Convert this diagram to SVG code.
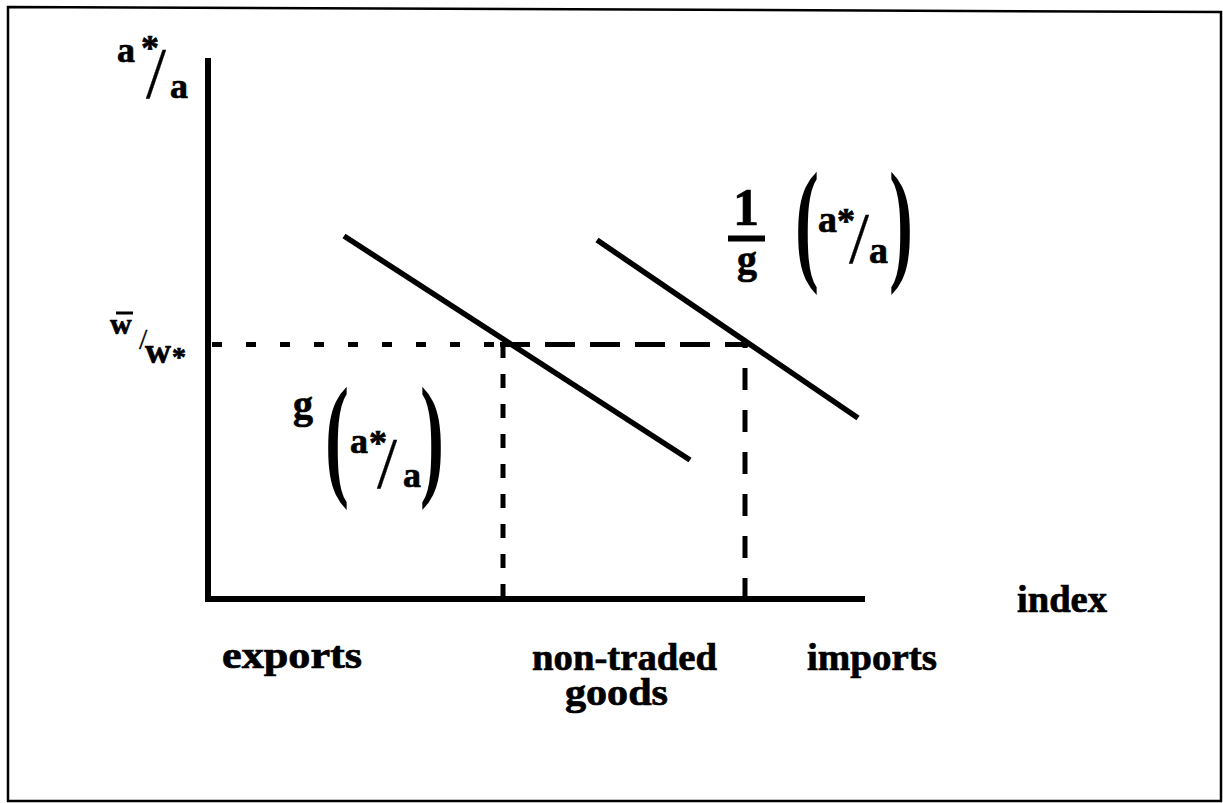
<svg xmlns="http://www.w3.org/2000/svg" width="1223" height="803" viewBox="0 0 1223 803">
<style>
.t{font-family:"Liberation Serif","Times New Roman",serif;font-weight:bold;fill:#000;stroke:#000;stroke-width:0.7}
.lab{font-size:38px}
.m{font-size:36px}
.sl{font-family:"Liberation Serif",serif;font-weight:normal;font-size:72px;stroke-width:0.3}
.p{font-family:"Liberation Serif",serif;font-weight:bold;font-size:40px;fill:#000}
.ax{stroke:#000;stroke-width:6;fill:none}
.ln{stroke:#000;stroke-width:5.5;fill:none;stroke-linecap:butt}
.d1{stroke:#000;stroke-width:5;fill:none;stroke-dasharray:10 24}
.d2{stroke:#000;stroke-width:5;fill:none;stroke-dasharray:30 15}
.dv{stroke:#000;stroke-width:5;fill:none;stroke-dasharray:14 16}
.dv2{stroke:#000;stroke-width:5;fill:none;stroke-dasharray:22 20}
</style>
<rect width="1223" height="803" fill="#fff"/>
<path d="M8,7 L1221,12 L1221,801 L8,801 Z" fill="none" stroke="#000" stroke-width="2.5"/>

<g id="axes">
<path class="ax" d="M208,58 L208,599 L865,599"/>
</g>

<g id="connectors">
<line class="ln" x1="344" y1="236" x2="690" y2="460"/>
<line class="ln" x1="597" y1="240" x2="858" y2="418"/>
<line class="d1" x1="212" y1="344.5" x2="500" y2="344.5"/>
<line class="d2" x1="500" y1="344.5" x2="748" y2="344.5"/>
<line class="dv" x1="503" y1="344" x2="503" y2="600"/>
<line class="dv2" x1="745" y1="600" x2="745" y2="344"/>
</g>

<g id="label-yaxis">
<text class="t m" x="117" y="62">a<tspan x="141" y="60">*</tspan><tspan class="sl" x="146" y="97">/</tspan><tspan x="170" y="98">a</tspan></text>
</g>

<g id="label-wage">
<line x1="116" y1="313" x2="133" y2="313" stroke="#000" stroke-width="3"/>
<text class="t" style="font-size:30px" x="110" y="334">w<tspan class="sl" style="font-size:30px" x="139" y="349">/</tspan><tspan style="font-size:36px" x="145" y="363">w</tspan><tspan style="font-size:28px" x="172" y="366">*</tspan></text>
</g>

<g id="label-g">
<text class="t" style="font-size:40px" x="293" y="418">g</text>
<text class="p" transform="translate(325,481) scale(1.8,3.4)">(</text>
<text class="t m" x="350" y="453">a<tspan x="369" y="455">*</tspan><tspan class="sl" x="377" y="487">/</tspan><tspan x="403" y="487">a</tspan></text>
<text class="p" transform="translate(420,481) scale(1.8,3.4)">)</text>
</g>

<g id="label-inv-g">
<text class="t" style="font-size:52px" x="733" y="225">1</text>
<line x1="728" y1="238.5" x2="765" y2="238.5" stroke="#000" stroke-width="6"/>
<text class="t" style="font-size:40px" x="737" y="273">g</text>
<text class="p" transform="translate(795,266) scale(1.8,3.4)">(</text>
<text class="t" style="font-size:38px" x="818" y="232">a<tspan style="font-size:36px" x="837" y="233">*</tspan><tspan class="sl" x="849" y="262">/</tspan><tspan x="869" y="263">a</tspan></text>
<text class="p" transform="translate(889,266) scale(1.8,3.4)">)</text>
</g>

<g id="label-index"><text class="t lab" x="1017" y="612" textLength="90" lengthAdjust="spacingAndGlyphs">index</text></g>
<g id="label-exports"><text class="t lab" x="222" y="668" textLength="140" lengthAdjust="spacingAndGlyphs">exports</text></g>
<g id="label-nontraded"><text class="t lab" x="532" y="670" textLength="185" lengthAdjust="spacingAndGlyphs">non-traded</text>
<text class="t lab" x="565" y="705" textLength="103" lengthAdjust="spacingAndGlyphs">goods</text></g>
<g id="label-imports"><text class="t lab" x="807" y="670" textLength="130" lengthAdjust="spacingAndGlyphs">imports</text></g>
</svg>
